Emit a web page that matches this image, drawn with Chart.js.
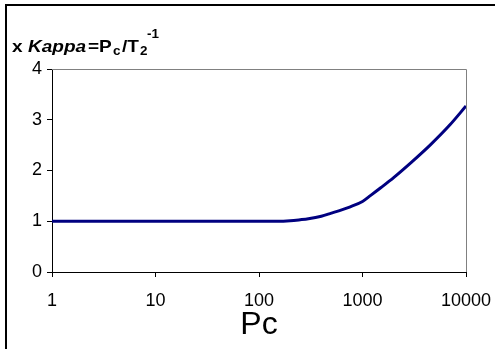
<!DOCTYPE html>
<html>
<head>
<meta charset="utf-8">
<script src="https://cdn.jsdelivr.net/npm/chart.js@4/dist/chart.umd.min.js"></script>
<style>
html,body{margin:0;padding:0;background:#fff;}
#wrap{width:495px;height:349px;position:relative;}
</style>
</head>
<body>
<div id="wrap"><canvas id="c" width="495" height="349"></canvas></div>
<script>
const pcValues    = [1, 10, 100, 150, 200, 250, 300, 400, 500, 600, 750, 1000, 1200, 1500, 2000, 3000, 4500, 7000, 10000];
const kappaValues = [1, 1, 1, 1, 1.01, 1.03, 1.05, 1.10, 1.16, 1.21, 1.28, 1.39, 1.51, 1.66, 1.86, 2.17, 2.50, 2.90, 3.27];
const xTicks = [1, 10, 100, 1000, 10000];
const yTicks = [0, 1, 2, 3, 4];
const xTitle = 'Pc';

const FONT = "'Liberation Sans', Arial, sans-serif";

const framePlugin = {
  id: 'frame',
  beforeDraw(chart) {
    const ctx = chart.ctx;
    ctx.save();
    ctx.fillStyle = '#fff';
    ctx.fillRect(0, 0, chart.width, chart.height);
    ctx.strokeStyle = '#000';
    ctx.lineWidth = 2;
    ctx.beginPath();
    ctx.moveTo(6, 349);
    ctx.lineTo(6, 5);
    ctx.lineTo(495, 5);
    ctx.stroke();
    ctx.restore();
  },
  afterDatasetsDraw(chart) {
    const ctx = chart.ctx, a = chart.chartArea;
    ctx.save();
    ctx.strokeStyle = '#808080';
    ctx.lineWidth = 1;
    ctx.beginPath();
    ctx.moveTo(a.left, a.top + 0.5);
    ctx.lineTo(a.right + 0.5, a.top + 0.5);
    ctx.lineTo(a.right + 0.5, a.bottom);
    ctx.stroke();
    ctx.restore();
  },
  afterDraw(chart) {
    const ctx = chart.ctx;
    ctx.fillStyle = '#000';
    ctx.textBaseline = 'alphabetic';
    const sx = 1.12;
    const parts = [
      {t: 'x',     x: 12,  y: 52, f: 'bold 17px ' + FONT},
      {t: 'Kappa', x: 28,  y: 52, f: 'italic bold 17px ' + FONT},
      {t: '=P',    x: 88,  y: 52, f: 'bold 17px ' + FONT},
      {t: 'c',     x: 113, y: 55, f: 'bold 12px ' + FONT},
      {t: '/T',    x: 122, y: 52, f: 'bold 17px ' + FONT},
      {t: '2',     x: 140, y: 55, f: 'bold 12px ' + FONT},
      {t: '-1',    x: 147, y: 38, f: 'bold 12px ' + FONT}
    ];
    for (const p of parts) {
      ctx.save();
      ctx.translate(p.x, p.y);
      ctx.scale(sx, 1);
      ctx.font = p.f;
      ctx.fillText(p.t, 0, 0);
      ctx.restore();
    }
  }
};

new Chart(document.getElementById('c'), {
  type: 'line',
  data: {
    datasets: [{
      data: pcValues.map((v, i) => ({x: v, y: kappaValues[i]})),
      borderColor: '#000080',
      borderWidth: 3,
      pointRadius: 0,
      cubicInterpolationMode: 'monotone',
      fill: false
    }]
  },
  options: {
    responsive: false,
    animation: false,
    events: [],
    layout: {padding: {left: 0, top: 69, right: 29, bottom: 0}},
    plugins: {legend: {display: false}, tooltip: {enabled: false}},
    scales: {
      x: {
        type: 'logarithmic',
        min: 1, max: 10000,
        afterBuildTicks(s) { s.ticks = xTicks.map(v => ({value: v})); },
        afterFit(s) { s.height = 77; s.paddingRight = 0; s.paddingLeft = 0; },
        border: {color: '#000', width: 1},
        grid: {display: true, drawOnChartArea: false, drawTicks: true, tickLength: 5, color: '#000'},
        ticks: {
          color: '#000', font: {family: FONT, size: 18}, padding: 13, maxRotation: 0, autoSkip: false,
          callback: v => String(v)
        },
        title: {display: true, text: xTitle, color: '#000', font: {family: FONT, size: 32}, padding: {top: 0, bottom: 5}}
      },
      y: {
        type: 'linear',
        min: 0, max: 4,
        afterBuildTicks(s) { s.ticks = yTicks.map(v => ({value: v})); },
        afterFit(s) { s.width = 52; s.paddingTop = 0; s.paddingBottom = 0; },
        border: {color: '#000', width: 1},
        grid: {display: true, drawOnChartArea: false, drawTicks: true, tickLength: 5, color: '#000'},
        ticks: {color: '#000', font: {family: FONT, size: 18}, padding: 5}
      }
    }
  },
  plugins: [framePlugin]
});
</script>
</body>
</html>
